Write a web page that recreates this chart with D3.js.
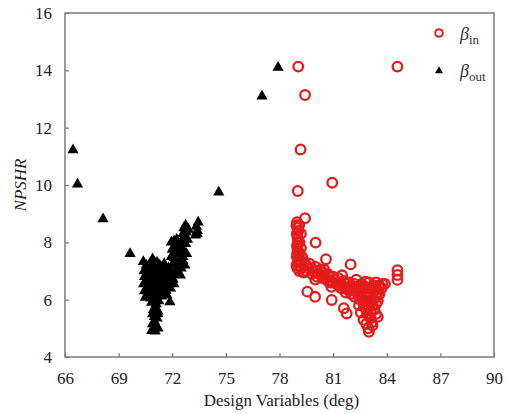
<!DOCTYPE html>
<html>
<head>
<meta charset="utf-8">
<script src="https://d3js.org/d3.v7.min.js"></script>
<style>
body { margin: 0; background: #fff; }
text { font-family: "Liberation Serif", "Times New Roman", serif; }
</style>
</head>
<body>
<div id="chart"></div>
<script>
// beta_in samples [deg, NPSHR]
var betaIn = [
	[79.05,14.13],[84.6,14.13],[79.43,13.14],[79.18,11.24],[79.02,9.79],[80.95,10.08],
	[79.43,8.84],[80.02,7.99],[80.6,7.41],[81.98,7.23],[84.6,7.03],[84.6,6.86],[84.6,6.69],
	[79.56,6.28],[79.99,6.1],[80.92,5.99],[81.6,5.7],[81.76,5.52],[82.97,5.0],[83.0,4.88],
	[82.7,5.3],[83.5,5.4],[82.8,6.63],[83.4,6.6],[83.9,6.55],
	[78.98,8.7],[79.0,8.5],[78.97,8.3],[79.02,8.1],[78.98,7.9],[79.05,7.7],[78.97,7.5],
	[79.02,7.3],[79.0,7.1],[79.1,8.6],[79.12,8.0],[79.1,7.6],[79.15,7.2],
	[78.95,8.6],[79.05,8.4],[79.0,8.2],[79.05,8.0],[79.0,7.8],[78.98,7.6],[79.05,7.4],
	[78.95,7.2],[79.1,7.0],[79.2,8.3],[79.2,7.8],[79.25,7.5],
	[79.2,7.3],[79.2,7.1],[79.5,7.2],[79.5,7.0],[79.8,7.1],[79.8,6.9],[80.1,7.0],[80.1,6.8],
	[80.4,6.95],[80.4,6.75],[80.7,6.9],[80.7,6.65],[81.0,6.8],[81.0,6.6],[81.3,6.75],[81.3,6.5],
	[81.6,6.65],[81.6,6.45],[81.9,6.6],[81.9,6.4],[82.2,6.55],[82.2,6.3],[82.2,6.1],
	[82.5,6.5],[82.5,6.25],[82.5,6.0],[82.8,6.45],[82.8,6.2],[82.8,5.95],[82.8,5.7],
	[83.1,6.4],[83.1,6.15],[83.1,5.9],[83.1,5.6],[83.1,5.35],[83.4,6.35],[83.4,6.1],[83.4,5.85],
	[83.6,6.5],[83.6,6.2],[79.3,7.45],[80.5,7.05],[81.5,6.85],[82.3,6.7],[83.0,6.6],[83.7,6.4],
	[82.0,6.2],[83.2,5.1],[82.9,5.5],[83.2,5.8],[79.35,6.95],[80.0,6.7],[80.9,6.45],[81.7,6.25],
	[79.4,7.3],[79.6,7.1],[79.7,7.25],[79.9,7.0],[80.0,7.15],[80.2,6.9],[80.3,7.05],[80.5,6.85],
	[80.6,6.75],[80.8,6.8],[80.85,6.6],[81.1,6.7],[81.2,6.55],[81.4,6.6],[81.45,6.4],[81.75,6.55],
	[81.8,6.35],[82.0,6.5],[82.1,6.4],[82.35,6.45],[82.4,6.2],[82.65,6.35],[82.6,6.1],[82.7,5.85],
	[82.95,6.3],[82.95,6.05],[82.95,5.8],[83.25,6.3],[83.25,6.0],[83.3,5.65],[83.0,5.45],[83.15,5.2],
	[82.85,5.15],[83.5,6.25],[83.5,5.95],[83.55,6.45],[83.75,6.55],[83.3,6.5],[82.6,6.55],
	[82.45,5.8],[82.55,5.55],[83.4,5.5]
];

// beta_out samples [deg, NPSHR]
var betaOut = [
	[66.45,11.22],[66.7,10.03],[68.13,8.81],[69.64,7.6],[74.6,9.75],[77.02,13.1],[77.92,14.1],
	[70.38,7.32],[70.9,7.42],[71.3,7.2],[71.55,7.25],[70.65,7.15],
	[70.42,7.0],[70.7,6.95],[71.0,7.05],[71.28,6.98],[71.6,7.02],[71.8,7.1],
	[70.45,6.8],[70.75,6.75],[71.05,6.82],[71.35,6.78],[71.62,6.8],[71.9,6.75],
	[70.4,6.55],[70.68,6.5],[70.98,6.55],[71.3,6.5],[71.6,6.52],[71.85,6.6],
	[70.45,6.3],[70.72,6.28],[71.02,6.3],[71.32,6.25],[71.65,6.32],
	[70.5,6.08],[70.8,6.05],[71.1,6.1],[71.4,6.12],[71.7,6.15],
	[70.85,5.9],[71.1,5.85],[70.95,5.65],[71.2,5.6],[71.0,5.4],[71.15,5.35],
	[70.9,5.15],[71.1,5.1],[70.85,4.92],[71.05,4.9],[71.2,5.0],[71.87,5.92],
	[71.9,6.4],[72.05,6.7],[71.95,6.9],[72.2,7.0],[72.0,7.2],[72.15,7.35],[71.95,7.5],
	[72.2,7.6],[72.0,7.75],[72.15,7.9],[71.95,8.0],[72.3,7.85],[72.1,8.05],
	[72.45,6.85],[72.7,7.2],[72.5,7.1],[72.6,7.5],[72.45,7.4],[72.8,7.6],[72.55,7.8],
	[72.75,7.95],[72.5,8.0],[72.7,8.2],[72.8,8.35],[72.65,8.5],[72.75,8.6],
	[73.3,8.25],[73.4,8.4],[73.35,8.55],[73.45,8.7],
	[70.55,7.2],[70.8,7.25],[71.15,7.3],[71.45,7.1],[70.55,6.9],[70.85,6.88],[71.15,6.9],
	[71.45,6.9],[71.75,6.9],[70.55,6.65],[70.85,6.65],[71.15,6.65],[71.45,6.65],[71.75,6.7],
	[70.55,6.4],[70.85,6.4],[71.15,6.42],[71.45,6.4],[71.75,6.45],[70.6,6.2],[70.9,6.18],
	[71.2,6.2],[71.5,6.22],[70.95,6.0],[71.25,5.95],[71.05,5.75],[70.9,5.5],[71.2,5.5],
	[71.0,5.25],[72.1,7.45],[72.35,7.7],[72.25,8.1],[72.6,7.35],[72.65,7.65],[72.85,8.1],
	[72.6,8.3],[72.9,8.45],[73.4,8.3],[72.1,6.55],[72.3,7.2],[72.35,6.95]
];

var xTicks = [66, 69, 72, 75, 78, 81, 84, 87, 90];
var yTicks = [4, 6, 8, 10, 12, 14, 16];

var width = 507, height = 414,
	margin = {top:13, right:13, bottom:57, left:65};

var red = '#e31c1c';

var x = d3.scaleLinear().domain([66, 90]).range([margin.left, width - margin.right]);
var y = d3.scaleLinear().domain([4, 16]).range([height - margin.bottom, margin.top]);

var svg = d3.select('#chart').append('svg')
	.attr('width', width)
	.attr('height', height);

// frame
svg.append('rect')
	.attr('x', x(66)).attr('y', y(16))
	.attr('width', x(90) - x(66)).attr('height', y(4) - y(16))
	.attr('fill', 'none')
	.attr('stroke', '#7a7a7a')
	.attr('stroke-width', 1.5);

var xAxis = svg.append('g')
	.attr('transform', 'translate(0,' + y(4) + ')')
	.call(d3.axisBottom(x).tickValues(xTicks).tickSizeInner(-4).tickSizeOuter(0).tickPadding(15));
var yAxis = svg.append('g')
	.attr('transform', 'translate(' + x(66) + ',0)')
	.call(d3.axisLeft(y).tickValues(yTicks).tickSizeInner(-4).tickSizeOuter(0).tickPadding(13));

[xAxis, yAxis].forEach(function(g){
	g.select('.domain').remove();
	g.selectAll('line').attr('stroke', '#7a7a7a').attr('stroke-width', 1.2);
	g.selectAll('text')
		.attr('fill', '#222')
		.style('font-size', '17px')
		.style('font-family', '"Liberation Serif", serif');
});

// beta_in circles
svg.append('g').selectAll('circle')
	.data(betaIn)
	.enter().append('circle')
		.attr('cx', function(d){ return x(d[0]); })
		.attr('cy', function(d){ return y(d[1]); })
		.attr('r', 4.8)
		.attr('fill', 'none')
		.attr('stroke', red)
		.attr('stroke-width', 2.3);

// beta_out triangles
var tri = d3.symbol().type(d3.symbolTriangle).size(55);
svg.append('g').selectAll('path')
	.data(betaOut)
	.enter().append('path')
		.attr('d', tri)
		.attr('transform', function(d){ return 'translate(' + x(d[0]) + ',' + y(d[1]) + ')'; })
		.attr('fill', '#000');

// axis titles
svg.append('text')
	.attr('x', (x(66) + x(90)) / 2 + 2)
	.attr('y', 406)
	.attr('text-anchor', 'middle')
	.style('font-size', '17px')
	.attr('fill', '#222')
	.text('Design Variables (deg)');

svg.append('text')
	.attr('transform', 'translate(26,' + ((y(4) + y(16)) / 2) + ') rotate(-90)')
	.attr('text-anchor', 'middle')
	.style('font-size', '17px')
	.style('font-style', 'italic')
	.attr('fill', '#222')
	.text('NPSHR');

// legend
var legend = svg.append('g');
legend.append('circle')
	.attr('cx', 439).attr('cy', 33).attr('r', 3.8)
	.attr('fill', 'none').attr('stroke', red).attr('stroke-width', 2);
legend.append('path')
	.attr('d', d3.symbol().type(d3.symbolTriangle).size(28))
	.attr('transform', 'translate(439,71)')
	.attr('fill', '#000');

var labels = [['in', 40], ['out', 77]];
labels.forEach(function(l){
	var t = legend.append('text')
		.attr('x', 460).attr('y', l[1])
		.style('font-size', '18px')
		.attr('fill', '#333');
	t.append('tspan').style('font-style', 'italic').text('β');
	t.append('tspan').attr('dy', 4).style('font-size', '13px').text(l[0]);
});
</script>
</body>
</html>
